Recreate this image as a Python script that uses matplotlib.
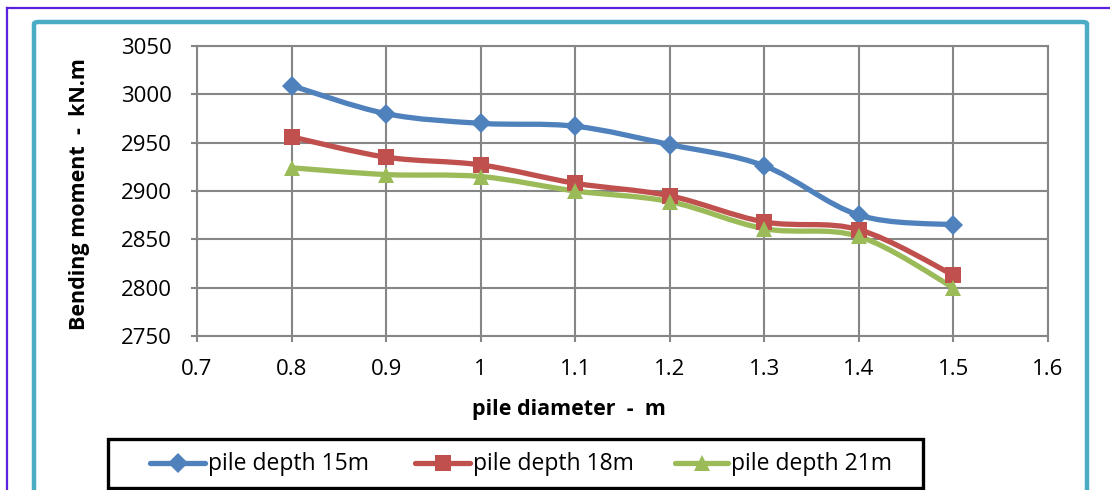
import matplotlib
matplotlib.use("Agg")
import matplotlib.pyplot as plt
from matplotlib.path import Path
from matplotlib.patches import PathPatch, Rectangle, FancyBboxPatch
from matplotlib.lines import Line2D
import numpy as np

plt.rcParams['font.family'] = ['Open Sans', 'DejaVu Sans']

diameters = [0.8, 0.9, 1.0, 1.1, 1.2, 1.3, 1.4, 1.5]
depth15 = [3009, 2980, 2970, 2967, 2948, 2926, 2875, 2865]
depth18 = [2956, 2935, 2927, 2908, 2895, 2868, 2860, 2813]
depth21 = [2924, 2917, 2915, 2900, 2889, 2861, 2853, 2800]
labels = ['pile depth 15m', 'pile depth 18m', 'pile depth 21m']
colors = ['#4F81BD', '#C0504D', '#9BBB59']
markers = ['D', 's', '^']
msizes = [10, 12, 12]
xticks = [0.7, 0.8, 0.9, 1.0, 1.1, 1.2, 1.3, 1.4, 1.5, 1.6]
xticklabels = ['0.7', '0.8', '0.9', '1', '1.1', '1.2', '1.3', '1.4', '1.5', '1.6']
yticks = [2750, 2800, 2850, 2900, 2950, 3000, 3050]

W, H = 1110, 490
fig = plt.figure(figsize=(W / 100, H / 100), dpi=100)

def fx(px):
    return px / W

def fy(py):
    return 1 - py / H

# outer blue border (cut at right/bottom)
fig.add_artist(Line2D([fx(7), fx(7)], [fy(8), fy(495)], color='#5A22DC', lw=1.6, transform=fig.transFigure))
fig.add_artist(Line2D([fx(7), fx(1115)], [fy(8), fy(8)], color='#5A22DC', lw=1.6, transform=fig.transFigure))

# teal inner border
fig.add_artist(FancyBboxPatch((fx(34), fy(520)), fx(1087) - fx(34), fy(22) - fy(520),
                              boxstyle='round,pad=0,rounding_size=0.004',
                              transform=fig.transFigure, fill=False,
                              edgecolor='#4BACC6', lw=3.2))

x0p, x1p, y0p, y1p = 197, 1048, 46, 336
ax = fig.add_axes([fx(x0p), fy(y1p), fx(x1p) - fx(x0p), fy(y0p) - fy(y1p)])
ax.set_xlim(0.7, 1.6)
ax.set_ylim(2750, 3050)
ax.set_xticks(xticks)
ax.set_xticklabels(xticklabels)
ax.set_yticks(yticks)
ax.grid(True, color='#868686', lw=1.5)
ax.set_axisbelow(True)
for s in ax.spines.values():
    s.set_color('#868686')
    s.set_linewidth(1.5)
ax.tick_params(axis='both', length=4.5, color='#868686', width=1.5, labelsize=16,
               colors='#868686', labelcolor='black')
ax.tick_params(axis='x', pad=12)
ax.tick_params(axis='y', pad=13.5)
ax.set_xlabel('pile diameter  -  m', fontsize=15.5, fontweight='bold', va='center')
ax.set_ylabel('Bending moment  -  kN.m', fontsize=15.5, fontweight='bold', va='center')
ax.xaxis.set_label_coords((569 - x0p) / (x1p - x0p), (y1p - 409) / (y1p - y0p))
ax.yaxis.set_label_coords((80 - x0p) / (x1p - x0p), (y1p - 194) / (y1p - y0p))


def smooth_path(xs, ys):
    xs = np.asarray(xs, float)
    ys = np.asarray(ys, float)
    n = len(xs)
    verts = [(xs[0], ys[0])]
    codes = [Path.MOVETO]
    for i in range(n - 1):
        xa, ya = (xs[i - 1], ys[i - 1]) if i > 0 else (xs[i], ys[i])
        xd, yd = (xs[i + 2], ys[i + 2]) if i + 2 < n else (xs[i + 1], ys[i + 1])
        c1 = (xs[i] + (xs[i + 1] - xa) / 6, ys[i] + (ys[i + 1] - ya) / 6)
        c2 = (xs[i + 1] - (xd - xs[i]) / 6, ys[i + 1] - (yd - ys[i]) / 6)
        verts += [c1, c2, (xs[i + 1], ys[i + 1])]
        codes += [Path.CURVE4] * 3
    return Path(verts, codes)


for ys, c, m, ms in zip([depth15, depth18, depth21], colors, markers, msizes):
    ax.add_patch(PathPatch(smooth_path(diameters, ys), fill=False, edgecolor=c,
                           lw=3.8, capstyle='round', joinstyle='round', zorder=3))
    ax.plot(diameters, ys, linestyle='none', marker=m, markersize=ms, color=c, zorder=4,
            markeredgewidth=0)

# legend box
fig.add_artist(Rectangle((fx(108), fy(488)), fx(923) - fx(108), fy(439) - fy(488),
                         transform=fig.transFigure, fill=False, edgecolor='black', lw=2.4))
handle_x = [(150, 205), (415, 470), (675, 728)]
for (hx0, hx1), c, m, ms, lab in zip(handle_x, colors, markers, msizes, labels):
    fig.add_artist(Line2D([fx(hx0), fx(hx1)], [fy(463), fy(463)], color=c, lw=3.8,
                          solid_capstyle='round', transform=fig.transFigure))
    fig.add_artist(Line2D([fx((hx0 + hx1) / 2)], [fy(463)], marker=m, markersize=ms, color=c,
                          markeredgewidth=0, linestyle='none', transform=fig.transFigure))
    fig.text(fx(hx1 + 3), fy(464), lab, fontsize=16.5, va='center', ha='left')

fig.savefig('out.png', dpi=100)
